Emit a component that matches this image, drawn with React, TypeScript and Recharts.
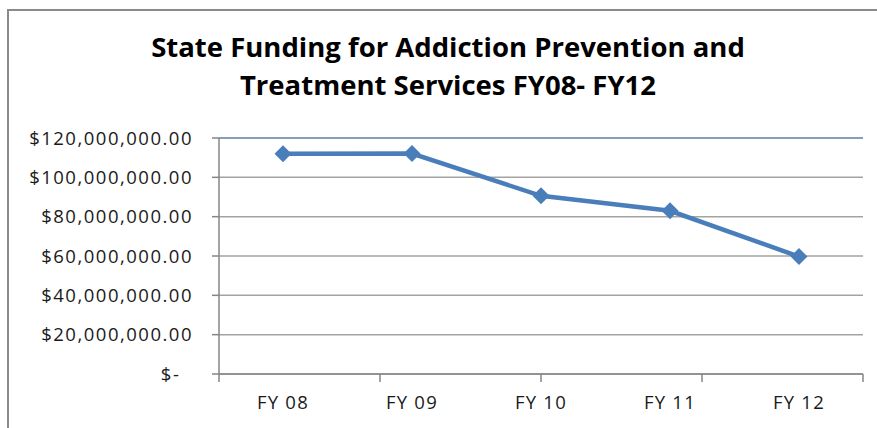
import React from "react";
import {
  LineChart,
  Line,
  XAxis,
  YAxis,
  CartesianGrid,
  ReferenceLine,
} from "recharts";

const years = ["FY 08", "FY 09", "FY 10", "FY 11", "FY 12"];
const funding = [112000000, 112100000, 90600000, 83000000, 59700000];
const fundingTicks = [0, 20000000, 40000000, 60000000, 80000000, 100000000, 120000000];
const edgeTicks = [0, 1, 2, 3, 4, 5];

const chartData = years.map((year, i) => ({ year, funding: funding[i] }));

const font = "'Open Sans', 'Noto Sans', sans-serif";

const formatDollars = (v: number) =>
  v === 0
    ? "$-\u00a0\u00a0"
    : "$" +
      v.toLocaleString("en-US", {
        minimumFractionDigits: 2,
        maximumFractionDigits: 2,
      });

function Diamond(props: any) {
  const { cx, cy } = props;
  if (cx == null || cy == null) return null;
  const r = 8.5;
  return (
    <polygon
      points={`${cx},${cy - r} ${cx + r},${cy} ${cx},${cy + r} ${cx - r},${cy}`}
      fill="#4A7EBB"
    />
  );
}

function App() {
  return (
    <div
      style={{
        position: "fixed",
        left: 0,
        top: 0,
        width: 877,
        height: 428,
        overflow: "hidden",
        background: "#fff",
      }}
    >
      <div
        style={{
          position: "absolute",
          left: 7,
          top: 9,
          width: 900,
          height: 450,
          borderTop: "2px solid #8a8a8a",
          borderLeft: "2px solid #8a8a8a",
        }}
      />
      <div
        style={{
          position: "absolute",
          left: 0,
          top: 28,
          width: 896,
          textAlign: "center",
          fontFamily: font,
          fontWeight: 700,
          fontSize: 27.5,
          lineHeight: "38px",
          color: "#000",
        }}
      >
        State Funding for Addiction Prevention and
        <br />
        Treatment Services FY08- FY12
      </div>
      <div style={{ position: "absolute", left: 0, top: 0 }}>
        <LineChart
          width={877}
          height={428}
          data={chartData}
          margin={{ top: 138, right: 14, bottom: 0, left: 0 }}
        >
          <CartesianGrid
            xAxisId="labels"
            vertical={false}
            stroke="#a3a3a3"
            strokeWidth={1.5}
          />
          <XAxis
            xAxisId="edges"
            type="number"
            domain={[0, 5]}
            ticks={edgeTicks}
            height={8}
            tickSize={8}
            tickFormatter={() => ""}
            stroke="#868686"
            strokeWidth={1.5}
          />
          <XAxis
            xAxisId="labels"
            dataKey="year"
            height={46}
            padding={{ left: 64, right: 64 }}
            tickLine={false}
            axisLine={false}
            tickSize={0}
            tickMargin={14}
            interval={0}
            tick={{ fill: "#1a1a1a", fontSize: 18.5, fontFamily: font, letterSpacing: 1.2 }}
          />
          <YAxis
            domain={[0, 120000000]}
            ticks={fundingTicks}
            interval={0}
            width={219}
            tickSize={7}
            tickMargin={19}
            tickFormatter={formatDollars}
            stroke="#868686"
            strokeWidth={1.5}
            tick={{ fill: "#1a1a1a", fontSize: 18.5, fontFamily: font, letterSpacing: 1.5 }}
          />
          <ReferenceLine
            xAxisId="labels"
            y={120000000}
            stroke="#4F81BD"
            strokeWidth={1.2}
          />
          <ReferenceLine x={5} xAxisId="edges" stroke="#4F81BD" strokeWidth={1.2} />
          <Line
            xAxisId="labels"
            type="linear"
            dataKey="funding"
            stroke="#4A7EBB"
            strokeWidth={4.5}
            dot={<Diamond />}
            activeDot={false}
            isAnimationActive={false}
          />
        </LineChart>
      </div>
    </div>
  );
}

export default App;
